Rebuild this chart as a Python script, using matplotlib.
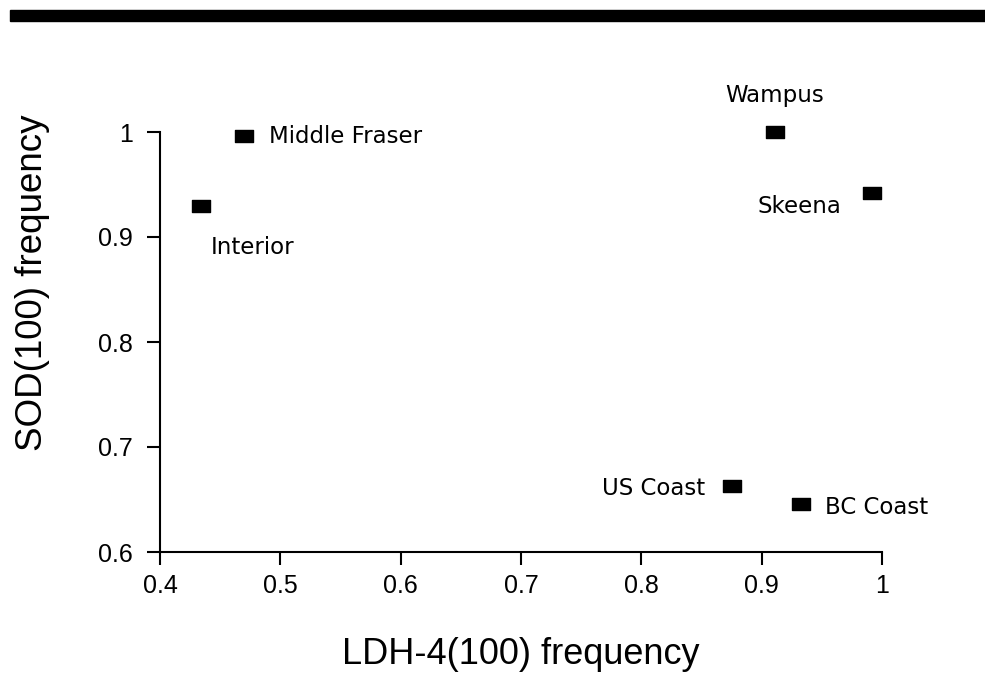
import matplotlib
matplotlib.use('Agg')
import matplotlib.pyplot as plt
from matplotlib.patches import Rectangle
from matplotlib.path import Path

# population frequencies
populations = ['Middle Fraser', 'Interior', 'Wampus', 'Skeena', 'US Coast', 'BC Coast']
ldh4_freq = [0.470, 0.434, 0.911, 0.992, 0.875, 0.933]
sod_freq = [0.996, 0.930, 1.000, 0.942, 0.663, 0.646]

x_ticks = [0.4, 0.5, 0.6, 0.7, 0.8, 0.9, 1.0]
x_ticklabels = ['0.4', '0.5', '0.6', '0.7', '0.8', '0.9', '1']
y_ticks = [0.6, 0.7, 0.8, 0.9, 1.0]
y_ticklabels = ['0.6', '0.7', '0.8', '0.9', '1']

# label placement per point: (dx, dy) in points, horizontal alignment
label_offsets = {
    'Middle Fraser': (18, 0, 'left'),
    'Interior': (7, -30, 'left'),
    'Wampus': (0, 26, 'center'),
    'Skeena': (-22, -10, 'right'),
    'US Coast': (-19, -2, 'right'),
    'BC Coast': (17, -3, 'left'),
}

fig = plt.figure(figsize=(9.85, 6.77), dpi=100)

# thick rule across the top
fig.patches.append(Rectangle((10 / 985, 1 - 21 / 677), 975 / 985, 11 / 677,
                             transform=fig.transFigure, color='black'))

ax = fig.add_axes([160 / 985, 125 / 677, 722 / 985, 420 / 677])

# wide flat rectangle marker
box = Path([(-1.5, -1.0), (1.5, -1.0), (1.5, 1.0), (-1.5, 1.0), (-1.5, -1.0)],
           [Path.MOVETO, Path.LINETO, Path.LINETO, Path.LINETO, Path.CLOSEPOLY])
ax.plot(ldh4_freq, sod_freq, linestyle='none', marker=box, markersize=13.5,
        color='black', clip_on=False)

for name, x, y in zip(populations, ldh4_freq, sod_freq):
    dx, dy, ha = label_offsets[name]
    ax.annotate(name, (x, y), xytext=(dx, dy), textcoords='offset points',
                ha=ha, va='center', fontsize=16.5, family='DejaVu Sans')

ax.set_xlim(0.4, 1.0)
ax.set_ylim(0.6, 1.0)
ax.set_xticks(x_ticks)
ax.set_xticklabels(x_ticklabels)
ax.set_yticks(y_ticks)
ax.set_yticklabels(y_ticklabels)

for side in ('top', 'right'):
    ax.spines[side].set_visible(False)
for side in ('left', 'bottom'):
    ax.spines[side].set_linewidth(1.5)

ax.tick_params(axis='both', direction='out', length=9.5, width=1.5,
               labelsize=18)
ax.tick_params(axis='x', pad=6)
ax.tick_params(axis='y', pad=10)
for lbl in ax.get_xticklabels() + ax.get_yticklabels():
    lbl.set_family('Liberation Sans')

ax.set_xlabel('LDH-4(100) frequency', fontsize=26, family='Liberation Sans')
ax.set_ylabel('SOD(100) frequency', fontsize=26.5, family='Liberation Sans')
ax.xaxis.set_label_coords(0.5, -(655 - 552) / 420)
ax.yaxis.set_label_coords((32 - 160) / 722, (552 - 283) / 420)
ax.xaxis.label.set_va('center')
ax.yaxis.label.set_va('center')

fig.savefig('out.png', dpi=100)
